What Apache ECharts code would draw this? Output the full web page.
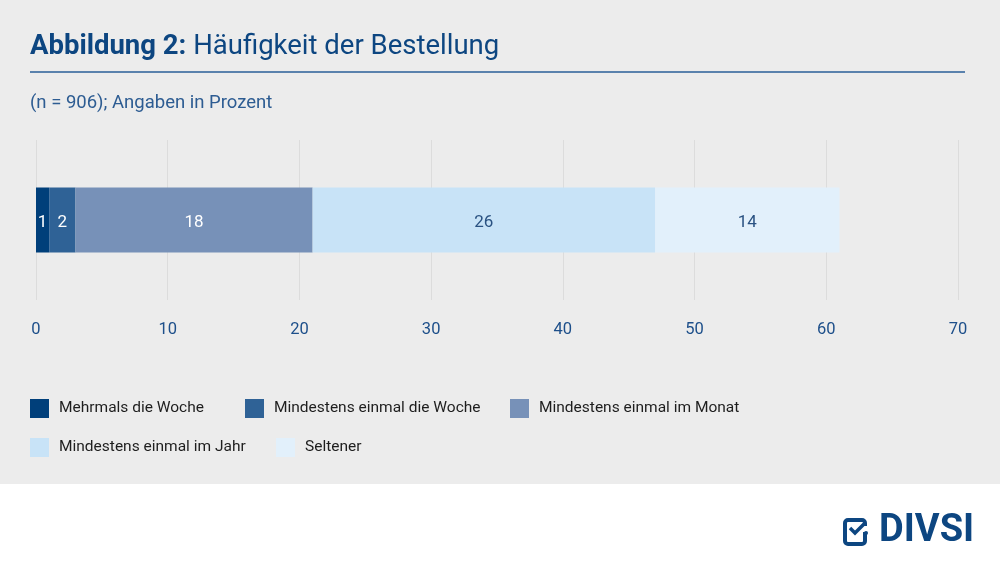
<!doctype html>
<html>
<head>
    <meta charset="utf-8">
    <title>Häufigkeit der Bestellung</title>
    <script src="https://cdn.jsdelivr.net/npm/echarts@6/dist/echarts.min.js"></script>
    <style>
        html, body { margin: 0; padding: 0; background: #fff; }
        #main { width: 1000px; height: 566px; }
    </style>
</head>
<body>
    <div id="main"></div>
<script type="text/javascript">
    // Daten
    var categories = ['Bestellung'];
    var seriesNames = ['Mehrmals die Woche', 'Mindestens einmal die Woche', 'Mindestens einmal im Monat', 'Mindestens einmal im Jahr', 'Seltener'];
    var seriesValues = [1, 2, 18, 26, 14];
    var axisTicks = [0, 10, 20, 30, 40, 50, 60, 70];

    var colors = ['#003f7a', '#2f6296', '#7791b8', '#c8e3f7', '#e2f0fb'];
    var labelColors = ['#ffffff', '#ffffff', '#ffffff', '#2a5282', '#2a5282'];
    var legendPos = [[30, 399], [245, 399], [510, 399], [30, 438], [276, 438]];
    var font = 'Roboto, "Noto Sans", sans-serif';

    var myChart = echarts.init(document.getElementById('main'));

    var series = [];
    var legends = [];
    for (var i = 0; i < seriesNames.length; i++) {
        series.push({
            name: seriesNames[i],
            type: 'bar',
            stack: 'total',
            barWidth: 65,
            data: [seriesValues[i]],
            itemStyle: { color: colors[i] },
            label: {
                show: true,
                position: 'inside',
                offset: [0, 3],
                color: labelColors[i],
                fontFamily: font,
                fontSize: 17
            }
        });
        legends.push({
            data: [seriesNames[i]],
            left: legendPos[i][0],
            top: legendPos[i][1],
            icon: 'rect',
            itemWidth: 19,
            itemHeight: 19,
            selectedMode: false,
            padding: 0,
            textStyle: { color: '#1e1e1e', fontFamily: font, fontSize: 15.5, padding: [0, 0, 0, 5] }
        });
    }

    var option = {
        backgroundColor: '#ffffff',
        animation: false,
        title: [{
            text: '{b|Abbildung 2:} Häufigkeit der Bestellung',
            left: 30,
            top: 33,
            padding: 0,
            textStyle: {
                color: '#0d4681',
                fontFamily: font,
                fontSize: 27.5,
                fontWeight: 'normal',
                rich: {
                    b: { color: '#0d4681', fontFamily: font, fontSize: 27.5, fontWeight: 'bold' }
                }
            }
        }, {
            text: '(n = 906); Angaben in Prozent',
            left: 30,
            top: 94,
            padding: 0,
            textStyle: { color: '#2d5c92', fontFamily: font, fontSize: 18.5, fontWeight: 'normal' }
        }],
        legend: legends,
        grid: { left: 36, right: 42, top: 140, height: 160 },
        xAxis: {
            type: 'value',
            min: axisTicks[0],
            max: axisTicks[axisTicks.length - 1],
            interval: axisTicks[1] - axisTicks[0],
            axisLine: { show: false },
            axisTick: { show: false },
            splitLine: { show: true, lineStyle: { color: '#dcdcdc', width: 1 } },
            axisLabel: { color: '#1d4f8a', fontFamily: font, fontSize: 16.5, margin: 21 }
        },
        yAxis: {
            type: 'category',
            data: categories,
            show: false
        },
        series: series,
        graphic: [
            { type: 'rect', z: -10, silent: true, shape: { x: 0, y: 0, width: 1000, height: 484 }, style: { fill: '#ececec' } },
            { type: 'line', shape: { x1: 30, y1: 72, x2: 965, y2: 72 }, style: { stroke: '#2a5f98', lineWidth: 1.5 } },
            // Logo
            { type: 'rect', shape: { x: 845, y: 520, width: 20, height: 24, r: 3 }, style: { fill: 'none', stroke: '#0d4681', lineWidth: 4 } },
            { type: 'rect', shape: { x: 861, y: 526, width: 8, height: 6 }, style: { fill: '#ffffff' } },
            { type: 'polyline', shape: { points: [[850, 528], [855, 533], [864, 524]] }, style: { stroke: '#0d4681', lineWidth: 3.5, fill: 'none' } },
            { type: 'circle', shape: { cx: 866, cy: 533, r: 2 }, style: { fill: '#0d4681' } },
            { type: 'text', left: 879, top: 512, style: { text: 'DIVSI', fill: '#0d4681', font: 'bold 38px Roboto, sans-serif' } }
        ]
    };

    myChart.setOption(option);
</script>
</body>
</html>
